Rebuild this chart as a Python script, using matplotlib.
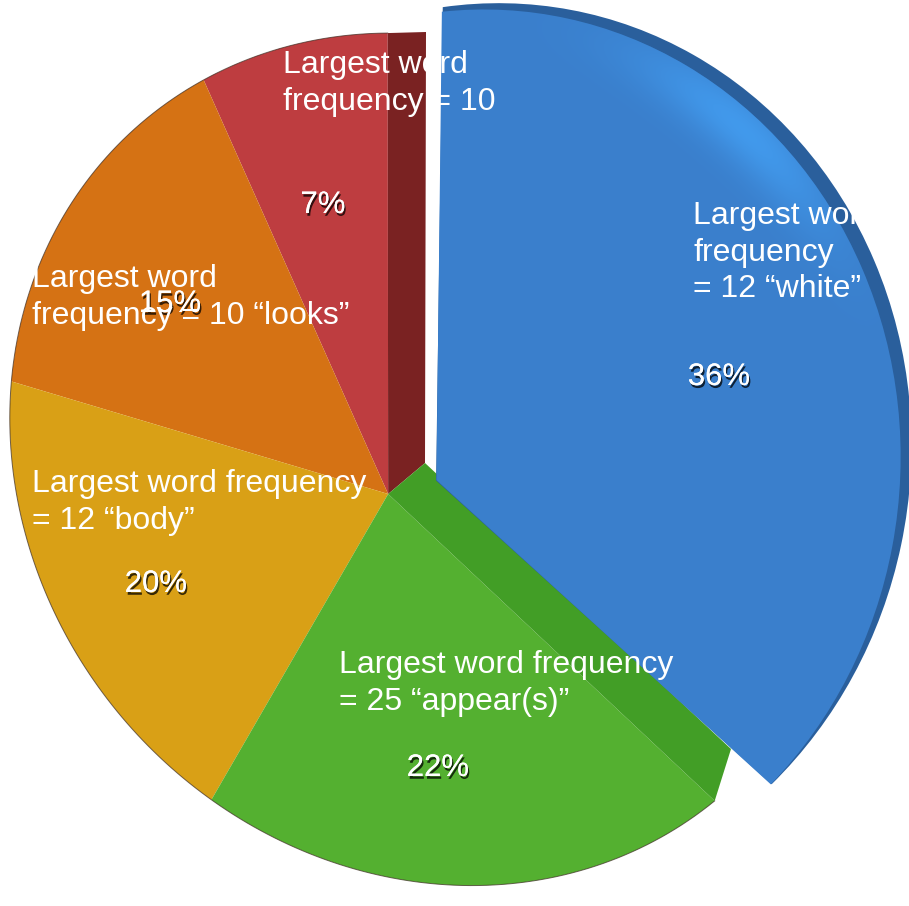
""" Pie chart of largest word frequencies, drawn in slight perspective """

import matplotlib
matplotlib.use("Agg")
import matplotlib.pyplot as plt
import matplotlib.patheffects as pe
import numpy as np
from matplotlib.patches import Wedge
from matplotlib.transforms import Transform

shares = [7, 15, 20, 22, 36]
labels = [
    "Largest word\nfrequency = 10",
    "Largest word\nfrequency = 10 \u201clooks\u201d",
    "Largest word frequency\n= 12 \u201cbody\u201d",
    "Largest word frequency\n= 25 \u201cappear(s)\u201d",
    "Largest word\nfrequency\n= 12 \u201cwhite\u201d",
]
colors = ["#BE3D40", "#D57214", "#D9A016", "#54B030", "#3A7FCC"]
side_colors = ["#7A2222", "#429E26"]

label_pos = [(283, 73), (32, 287), (32, 492), (339, 673), (693, 224)]
share_pos = [(323, 205), (170, 304), (156, 584), (438, 768), (719, 377)]


class Projective(Transform):
    """ Planar homography, used to tip the pie out of the page """
    input_dims = 2
    output_dims = 2

    def __init__(self, matrix) -> None:
        super().__init__()
        self.matrix = matrix

    def transform_non_affine(self, values):
        values = np.asarray(values, dtype=float)
        stacked = np.column_stack([values, np.ones(len(values))]) @ self.matrix.T
        return stacked[:, :2] / stacked[:, 2:]


def fit_homography(src, dst, weights):
    """ Weighted least squares fit of a homography through point pairs """
    rows = []
    for (x, y), (u, v), w in zip(src, dst, weights):
        rows.append([w * n for n in (x, y, 1, 0, 0, 0, -u * x, -u * y, -u)])
        rows.append([w * n for n in (0, 0, 0, x, y, 1, -v * x, -v * y, -v)])
    return np.linalg.svd(np.array(rows, dtype=float))[2][-1].reshape(3, 3)


def unit(turned: float) -> tuple:
    """ Point on the unit circle, turned percent counterclockwise from the top """
    angle = np.radians(90 + turned * 3.6)
    return (np.cos(angle), np.sin(angle))


edges = np.cumsum(shares)
blue_marks = [(0, 0), (0, 1), (np.sqrt(.5), np.sqrt(.5)), (0.95, 0.31), (1, 0), (0.94, -0.342), unit(edges[3])]

face = Projective(fit_homography(
    [(0, 0), unit(0), unit(edges[0]), unit(edges[1]), unit(edges[2]), unit(edges[3]), (0.2, -0.98)],
    [(388, 494), (388, 33), (205, 82), (10, 380), (215, 800), (715, 800), (470, 886)],
    [10, 5, 1, 1, 1, 1, 1]))
face_back = Projective(fit_homography(
    [(0, 0), unit(0), unit(edges[3]), (1, 1)],
    [(425, 463), (426, 32), (731, 749), (830, 190)],
    [1, 1, 1, 1]))
blue_face = Projective(fit_homography(
    blue_marks,
    [(438, 480), (441, 11), (761, 149), (880, 330), (907, 480), (873, 630), (768, 786)],
    [10, 10, 3, 3, 5, 3, 10]))
blue_side = Projective(fit_homography(
    blue_marks,
    [(438, 480), (441, 7), (781, 123), (897, 325), (909, 480), (875, 630), (769, 787)],
    [10, 10, 5, 3, 3, 4, 10]))

fig = plt.figure(figsize=(9.09, 9.06), dpi=100)
ax = fig.add_axes([0, 0, 1, 1])

wedges, _ = ax.pie(shares, colors=colors, startangle=90, counterclock=True)
for wedge in wedges[:4]:
    wedge.set_transform(face + ax.transData)
    wedge.set_zorder(2)

# the lifted blue slice with its dark rim
blue = wedges[4]
rim = Wedge((0, 0), 1, blue.theta1, blue.theta2, facecolor="#2A5F9C", linewidth=0,
            transform=blue_side + ax.transData, zorder=4)
ax.add_patch(rim)
blue.set_transform(blue_face + ax.transData)
blue.set_zorder(5)

# cut faces of the red and green slices
for edge, color in zip([0, edges[3]], side_colors):
    front = face.transform(np.array([(0, 0), unit(edge)]))
    back = face_back.transform(np.array([unit(edge), (0, 0)]))
    ax.fill(*np.vstack([front, back]).T, color=color, linewidth=0, zorder=3)

# dark hairline along the outer rim
turned = np.linspace(0, edges[3], 200)
ax.plot(*face.transform(np.array([unit(t) for t in turned])).T,
        color="#3a2a20", linewidth=0.7, alpha=0.7, zorder=2.5)

# soft highlight on the blue slice
grid_x, grid_y = np.meshgrid(np.arange(909), np.arange(906))
radius = np.hypot(grid_x - 437, grid_y - 470)
clock = np.degrees(np.arctan2(grid_x - 437, 470 - grid_y))
glow = np.zeros((906, 909, 4))
glow[..., :3] = matplotlib.colors.to_rgb("#45A5FA")
glow[..., 3] = 0.7 * np.exp(-((radius - 458) / 30) ** 2) * np.exp(-((clock - 42) / 16) ** 2)
image = ax.imshow(glow, extent=(0, 909, 906, 0), aspect="auto", zorder=5.5)
image.set_clip_path(blue)

ax.set_aspect("auto")
ax.set_xlim(0, 909)
ax.set_ylim(906, 0)
ax.axis("off")

shadow = [pe.withSimplePatchShadow(offset=(1, -2), shadow_rgbFace="black", alpha=0.75), pe.Normal()]
for share, (x, y) in zip(shares, share_pos):
    ax.text(x, y, f"{share}%", color="white", fontsize=22.4, family="Liberation Sans",
            ha="center", va="center", path_effects=shadow, zorder=8)

for label, (x, y) in zip(labels, label_pos):
    for i, line in enumerate(label.split("\n")):
        ax.text(x, y + i * 36.7, line, color="white", fontsize=23, family="Liberation Sans",
                ha="left", va="baseline", zorder=9)

fig.savefig("out.png", dpi=100, facecolor="white")
plt.close(fig)
